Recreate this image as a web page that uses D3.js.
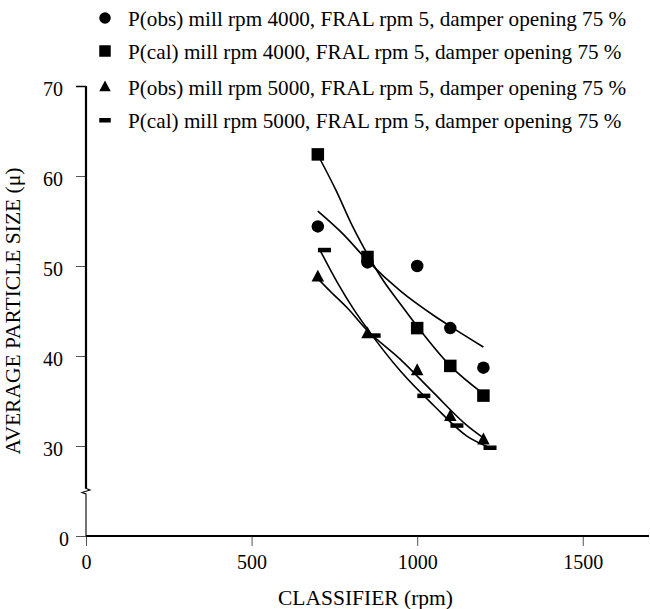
<!DOCTYPE html>
<html>
<head>
<meta charset="utf-8">
<script src="https://cdn.jsdelivr.net/npm/d3@7"></script>
<style>
  body { margin: 0; background: #fff; }
</style>
</head>
<body>
<div id="vis"></div>
<script>
const margin = {top: 86, right: 1, bottom: 73, left: 86};
const width = 650 - margin.left - margin.right;
const height = 609 - margin.top - margin.bottom;
const serif = '"Liberation Serif", "Times New Roman", Times, serif';

// measured points
const classifier = [700, 850, 1000, 1100, 1200];
const classifierCal5000 = [720, 870, 1020, 1120, 1220];
const pObs4000 = [54.4, 50.4, 50.0, 43.1, 38.7];
const pCal4000 = [62.4, 51.0, 43.1, 38.9, 35.6];
const pObs5000 = [48.8, 42.5, 38.4, 33.3, 30.7];
const pCal5000 = [51.8, 42.3, 35.6, 32.3, 29.5];

// fitted curves
const fitObs4000X = [700, 775, 850, 950, 1050, 1100, 1200];
const fitObs4000Y = [56.1, 53.6, 50.6, 47.2, 44.5, 43.3, 41.0];
const fitCal4000X = [705, 755, 805, 850, 890, 955, 1000, 1100, 1200];
const fitCal4000Y = [62.0, 58.4, 54.4, 51.3, 48.8, 45.5, 43.3, 38.9, 35.8];
const fitObs5000X = [700, 740, 790, 845, 950, 1050, 1150, 1200];
const fitObs5000Y = [48.6, 47.1, 45.3, 43.0, 39.6, 35.9, 32.3, 30.9];
const fitCal5000X = [706, 760, 810, 848, 950, 1050, 1150, 1220];
const fitCal5000Y = [51.8, 48.1, 45.1, 43.1, 38.3, 34.5, 31.1, 29.4];

const xTicks = [0, 500, 1000, 1500];
const yTicks = [0, 30, 40, 50, 60, 70];
const legendLabels = [
  'P(obs) mill rpm 4000, FRAL rpm 5, damper opening 75 %',
  'P(cal) mill rpm 4000, FRAL rpm 5, damper opening 75 %',
  'P(obs) mill rpm 5000, FRAL rpm 5, damper opening 75 %',
  'P(cal) mill rpm 5000, FRAL rpm 5, damper opening 75 %'
];
const shapes = ['circle', 'square', 'triangle', 'dash'];
const legendRowY = [-68, -35, 1, 34];

const series = [
  {x: classifier, y: pObs4000, shape: 'circle'},
  {x: classifier, y: pCal4000, shape: 'square'},
  {x: classifier, y: pObs5000, shape: 'triangle'},
  {x: classifierCal5000, y: pCal5000, shape: 'dash'}
];
const fits = [
  [fitObs4000X, fitObs4000Y],
  [fitCal4000X, fitCal4000Y],
  [fitObs5000X, fitObs5000Y],
  [fitCal5000X, fitCal5000Y]
];

const svg = d3.select('#vis')
    .append('svg')
    .attr('width', width + margin.left + margin.right)
    .attr('height', height + margin.top + margin.bottom)
    .append('g')
    .attr('transform', `translate(${margin.left},${margin.top})`);

const xScale = d3.scaleLinear().domain([0, 1700]).range([0, width]);
// broken axis: 0..30 squeezed into one tick step
const yScale = d3.scaleLinear().domain([0, 30, 70]).range([height, height - 90, 0]);

function drawMarker(sel, shape, s) {
  if (shape === 'circle') {
    sel.append('circle').attr('r', s / 2);
  } else if (shape === 'square') {
    sel.append('rect').attr('x', -s / 2).attr('y', -s / 2).attr('width', s).attr('height', s);
  } else if (shape === 'triangle') {
    const h = s * 0.95;
    sel.append('path').attr('d', `M0,${-h * 0.6}L${s / 2},${h * 0.4}L${-s / 2},${h * 0.4}Z`);
  } else {
    sel.append('rect').attr('x', -s / 2).attr('y', -2).attr('width', s).attr('height', 4.5);
  }
}

// axes
const xAxis = svg.append('g')
    .attr('transform', `translate(0,${height})`)
    .call(d3.axisBottom(xScale).tickValues(xTicks).tickSize(10).tickPadding(9).tickFormat(d3.format('d')));
xAxis.select('.domain').remove();
xAxis.selectAll('line').attr('stroke', '#555');
xAxis.selectAll('text').style('font-size', '20px').style('font-family', serif);

const yAxis = svg.append('g')
    .call(d3.axisLeft(yScale).tickValues(yTicks).tickSize(10).tickPadding(13));
yAxis.select('.domain').remove();
yAxis.selectAll('line').attr('stroke', '#555');
yAxis.selectAll('text').style('font-size', '20px').style('font-family', serif)
    .attr('dy', '0.45em')
    .attr('x', d => d === 0 ? -17 : -23);
yAxis.selectAll('.tick').filter(d => d === 70).select('line').attr('stroke', '#000').attr('stroke-width', 1.5);

svg.append('line')
    .attr('x1', 0).attr('x2', width)
    .attr('y1', height).attr('y2', height)
    .attr('stroke', '#000').attr('stroke-width', 2.2);

const breakY = yScale(15);
svg.append('path')
    .attr('d', `M0,0V${breakY - 3}`)
    .attr('stroke', '#000').attr('stroke-width', 2.2).attr('fill', 'none');
svg.append('path')
    .attr('d', `M-1,${breakY - 3}L4,${breakY - 1}L-4,${breakY + 1.5}L0,${breakY + 3}V${height}`)
    .attr('stroke', '#000').attr('stroke-width', 1.1).attr('fill', 'none');

// fitted curves
const line = d3.line().x(d => xScale(d[0])).y(d => yScale(d[1])).curve(d3.curveMonotoneX);
fits.forEach(([fx, fy]) => {
  svg.append('path')
      .datum(fx.map((v, i) => [v, fy[i]]))
      .attr('d', line)
      .attr('fill', 'none')
      .attr('stroke', '#000')
      .attr('stroke-width', 1.6);
});

// points
series.forEach(s => {
  s.x.forEach((v, i) => {
    const g = svg.append('g').attr('transform', `translate(${xScale(v)},${yScale(s.y[i])})`);
    drawMarker(g, s.shape, s.shape === 'dash' ? 13 : 12.5);
  });
});

// legend
const legend = svg.append('g').attr('transform', 'translate(19,0)');
legendLabels.forEach((label, i) => {
  const row = legend.append('g').attr('transform', `translate(0,${legendRowY[i]})`);
  drawMarker(row.append('g'), shapes[i], 11.5);
  row.append('text')
      .attr('x', 23)
      .attr('dy', '0.38em')
      .style('font-size', '21.2px')
      .style('font-family', serif)
      .text(label);
});

// axis labels
svg.append('text')
    .attr('x', width / 2 - 2)
    .attr('y', height + 69)
    .attr('text-anchor', 'middle')
    .style('font-size', '21.5px')
    .style('font-family', serif)
    .text('CLASSIFIER (rpm)');

svg.append('text')
    .attr('transform', 'rotate(-90)')
    .attr('x', -height / 2)
    .attr('y', -66)
    .attr('text-anchor', 'middle')
    .style('font-size', '21.5px')
    .style('font-family', serif)
    .text('AVERAGE PARTICLE SIZE (\u03bc)');
</script>
</body>
</html>
